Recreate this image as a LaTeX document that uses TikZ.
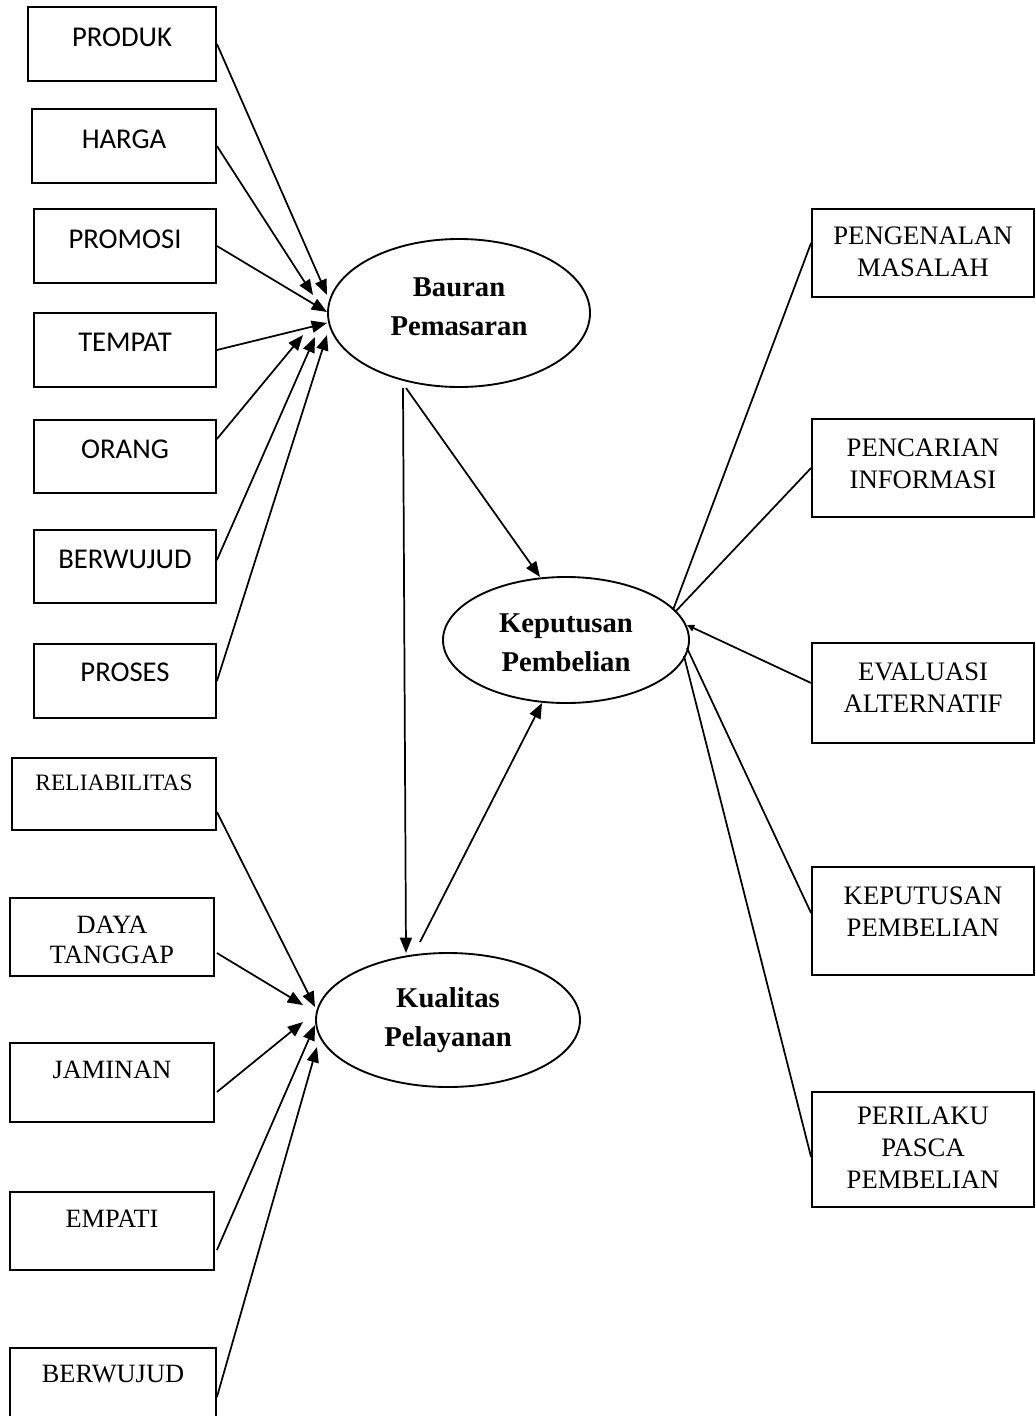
\documentclass[tikz,border=0pt]{standalone}
\usepackage{fontspec}
\setmainfont{Liberation Serif}
\newfontfamily\carl{Carlito}
\usetikzlibrary{arrows.meta,shapes.geometric}
\newdimen\px \px=0.75pt
\begin{document}
\begin{tikzpicture}[x=0.75pt,y=-0.75pt,
  bx/.style={draw,line width=1.4pt,inner sep=0pt},
  ell/.style={draw,ellipse,line width=1.4pt,inner sep=0pt},
  lbl/.style={inner sep=0pt,align=center},
  sanslbl/.style={lbl,font=\carl\fontsize{21.5}{26}\selectfont},
  serlbl/.style={lbl,font=\fontsize{19.8}{22.5}\selectfont},
  rlbl/.style={lbl,font=\fontsize{20}{24}\selectfont},
  elbl/.style={lbl,font=\bfseries\fontsize{21.5}{29}\selectfont},
  conn/.style={line width=1.3pt},
  arr/.style={conn,-{Triangle[length=11.5pt,width=9pt]}},
  sarr/.style={conn,-{Triangle[length=5.5pt,width=5pt]}}]
\clip (0,0) rectangle (1035,1416);
\fill[white] (0,0) rectangle (1035,1416);

% upper-left boxes
\node[bx,minimum width=188\px,minimum height=74\px] (prod) at (122,44) {};
\node[bx,minimum width=184\px,minimum height=74\px] (harga) at (124,146) {};
\node[bx,minimum width=182\px,minimum height=74\px] (promosi) at (125,246) {};
\node[bx,minimum width=182\px,minimum height=74\px] (tempat) at (125,350) {};
\node[bx,minimum width=182\px,minimum height=73\px] (orang) at (125,456.5) {};
\node[bx,minimum width=182\px,minimum height=73\px] (berwujud) at (125,566.5) {};
\node[bx,minimum width=182\px,minimum height=74\px] (proses) at (125,681) {};
\node[sanslbl] (tprod) at (122,37) {PRODUK};
\node[sanslbl] (tharga) at (124,139) {HARGA};
\node[sanslbl] (tpromosi) at (125,239) {PROMOSI};
\node[sanslbl] (ttempat) at (125,342) {TEMPAT};
\node[sanslbl] (torang) at (125,449) {ORANG};
\node[sanslbl] (tberwujud) at (125,559) {BERWUJUD};
\node[sanslbl] (tproses) at (125,672) {PROSES};

% lower-left boxes
\node[bx,minimum width=204\px,minimum height=72\px] (rel) at (114,794) {};
\node[bx,minimum width=204\px,minimum height=78\px] (daya) at (112,937) {};
\node[bx,minimum width=204\px,minimum height=79\px] (jaminan) at (112,1082.5) {};
\node[bx,minimum width=204\px,minimum height=78\px] (empati) at (112,1231) {};
\node[bx,minimum width=206\px,minimum height=82\px] (berwujudb) at (113,1389) {};
\node[lbl,font=\fontsize{17.6}{21}\selectfont] (trel) at (114,783) {RELIABILITAS};
\node[serlbl] (tdaya) at (112,940) {DAYA\\TANGGAP};
\node[serlbl] (tjaminan) at (112,1070) {JAMINAN};
\node[serlbl] (tempati) at (112,1219) {EMPATI};
\node[serlbl] (tberwujudb) at (113,1374) {BERWUJUD};

% right boxes
\node[bx,minimum width=222\px,minimum height=88\px] (pengenalan) at (923,253) {};
\node[bx,minimum width=222\px,minimum height=98\px] (pencarian) at (923,468) {};
\node[bx,minimum width=222\px,minimum height=100\px] (evaluasi) at (923,693) {};
\node[bx,minimum width=222\px,minimum height=108\px] (kepbox) at (923,921) {};
\node[bx,minimum width=222\px,minimum height=115\px] (perilaku) at (923,1149.5) {};
\node[rlbl] (tpengenalan) at (923,252) {PENGENALAN\\MASALAH};
\node[rlbl] (tpencarian) at (923,463.5) {PENCARIAN\\INFORMASI};
\node[rlbl] (tevaluasi) at (923,688) {EVALUASI\\ALTERNATIF};
\node[rlbl] (tkepbox) at (923,911.5) {KEPUTUSAN\\PEMBELIAN};
\node[rlbl] (tperilaku) at (923,1148) {PERILAKU\\PASCA\\PEMBELIAN};

% ellipses
\node[ell,minimum width=262\px,minimum height=148\px] (bauran) at (459,313) {};
\node[ell,minimum width=246\px,minimum height=126\px] (kep) at (566,640) {};
\node[ell,minimum width=264\px,minimum height=134\px] (kual) at (448,1020) {};
\node[elbl] (tbauran) at (459,307) {Bauran\\Pemasaran};
\node[elbl] (tkep) at (566,643) {Keputusan\\Pembelian};
\node[elbl] (tkual) at (448,1020) {Kualitas\\Pelayanan};

% connectors into Bauran Pemasaran
\draw[arr] (prod.east) -- ([shift={(-132,-18)}]bauran.center);
\draw[arr] (harga.east) -- ([shift={(-146,-18)}]bauran.center);
\draw[arr] (promosi.east) -- ([shift={(-132,-1)}]bauran.center);
\draw[arr] (tempat.east) -- ([shift={(-132,10)}]bauran.center);
\draw[arr] ([shift={(0,-17.5)}]orang.east) -- ([shift={(-156,22)}]bauran.center);
\draw[arr] ([shift={(0,-6.5)}]berwujud.east) -- ([shift={(-144,24)}]bauran.center);
\draw[arr] (proses.east) -- ([shift={(-132,22)}]bauran.center);

% connectors into Kualitas Pelayanan
\draw[arr] ([shift={(0,18)}]rel.east) -- ([shift={(-133,-13)}]kual.center);
\draw[arr] ([shift={(2,16)}]daya.east) -- ([shift={(-145,-15)}]kual.center);
\draw[arr] ([shift={(2,9.5)}]jaminan.east) -- ([shift={(-145,2)}]kual.center);
\draw[arr] ([shift={(2,19)}]empati.east) -- ([shift={(-133,5)}]kual.center);
\draw[arr] ([shift={(0,8)}]berwujudb.east) -- ([shift={(-131,27)}]kual.center);

% middle connectors
\draw[arr] ([shift={(-53,75)}]bauran.center) -- ([shift={(-26,-63)}]kep.center);
\draw[arr] ([shift={(-56,75)}]bauran.center) -- ([shift={(-42,-67)}]kual.center);
\draw[arr] ([shift={(-28,-78)}]kual.center) -- ([shift={(-24,63)}]kep.center);

% right connectors
\draw[conn] ([shift={(0,-10)}]pengenalan.west) -- ([shift={(107,-30)}]kep.center);
\draw[conn] (pencarian.west) -- ([shift={(109,-28)}]kep.center);
\draw[sarr] ([shift={(0,-10)}]evaluasi.west) -- ([shift={(121,-15)}]kep.center);
\draw[conn] ([shift={(0,-8)}]kepbox.west) -- ([shift={(121,8)}]kep.center);
\draw[conn] ([shift={(0,7.5)}]perilaku.west) -- ([shift={(118,16)}]kep.center);
\end{tikzpicture}
\end{document}
